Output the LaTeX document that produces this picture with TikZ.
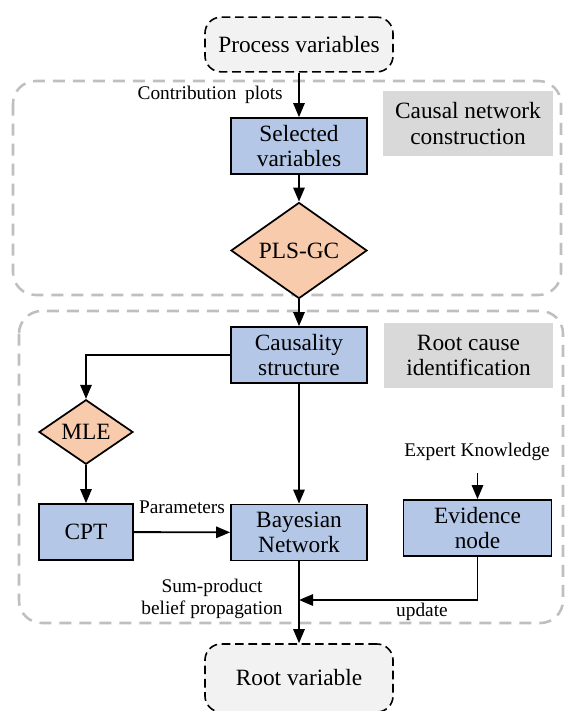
\documentclass[tikz,border=0pt]{standalone}
\usepackage{fontspec}
\setmainfont{Liberation Serif}
\usetikzlibrary{arrows.meta,shapes.geometric}

\definecolor{procblue}{HTML}{B4C7E7}
\definecolor{decorange}{HTML}{F8CBAD}
\definecolor{tagfill}{HTML}{D9D9D9}
\definecolor{termfill}{HTML}{F2F2F2}
\definecolor{framegray}{HTML}{BFBFBF}

\tikzset{
  base/.style={font=\fontsize{17.5}{19}\selectfont, align=center, inner sep=0pt},
  procbox/.style={base, draw=black, line width=1.3pt, fill=procblue,
    minimum width=102pt, minimum height=42pt},
  decision/.style={base, diamond, draw=black, line width=1.3pt, fill=decorange},
  terminal/.style={base, draw=black, line width=1.2pt, dash pattern=on 6.5pt off 3.5pt,
    rounded corners=12pt, fill=termfill, minimum width=141pt},
  tagbox/.style={base, fill=tagfill, minimum width=127pt, minimum height=48.5pt},
  frame/.style={draw=framegray, line width=1.9pt, dash pattern=on 9pt off 6pt,
    rounded corners=17pt},
  lbl/.style={font=\fontsize{14.5}{16.5}\selectfont, align=center, inner sep=0pt},
  flow/.style={draw=black, line width=1.4pt, -{Triangle[length=10.5pt,width=8.5pt]}},
  link/.style={draw=black, line width=1.4pt}
}

\begin{document}
\begin{tikzpicture}[x=0.75pt,y=-0.75pt]
\useasboundingbox (0,0) rectangle (575,711);

% stage frames
\draw[frame] (13,81) rectangle (561,295);
\draw[frame] (19,311) rectangle (563,623);

% stage tags
\node[tagbox] (tagA) at (468,123.5) {Causal network\\construction};
\node[tagbox] (tagB) at (468.5,355.5) {Root cause\\identification};

% terminals
\node[terminal, minimum height=41pt] (proc) at (299,44.5) {Process variables};
\node[terminal, minimum height=51pt] (root) at (299,678) {Root variable};

% process steps
\node[procbox] (sel) at (299,146) {Selected\\variables};
\node[decision, minimum width=102pt, minimum height=52pt] (pls) at (299,250.5) {PLS-GC};
\node[procbox] (caus) at (299,355) {Causality\\structure};
\node[decision, minimum width=70.5pt, minimum height=37.5pt] (mle) at (86,432) {MLE};
\node[procbox, minimum width=70pt] (cpt) at (86,532) {CPT};
\node[procbox] (bn) at (299,532.5) {Bayesian\\Network};
\node[procbox, minimum width=111pt] (evid) at (477.5,528) {Evidence\\node};

% free labels
\node[lbl, anchor=east] (contrib) at (283,95) {Contribution\hspace{0.45em}plots};
\node[lbl] (param) at (182,507) {Parameters};
\node[lbl] (expert) at (477,452) {Expert Knowledge};
\node[lbl] (sumprod) at (212,598.5) {Sum-product\\belief propagation};
\node[lbl] (upd) at (422,612) {update};

% helper points
\coordinate (expTop) at (477.5,473);
\coordinate (merge) at (299,600);

% connectors
\draw[flow] (proc) -- (sel);
\draw[flow] (sel) -- (pls);
\draw[flow] (pls) -- (caus);
\draw[flow] (caus.west) -| (mle.north);
\draw[flow] (mle) -- (cpt);
\draw[flow] (cpt) -- (bn);
\draw[flow] (caus) -- (bn);
\draw[flow] (expTop) -- (evid.north);
\draw[flow] (evid.south) |- (merge);
\draw[flow] (bn) -- (root);
\end{tikzpicture}
\end{document}
